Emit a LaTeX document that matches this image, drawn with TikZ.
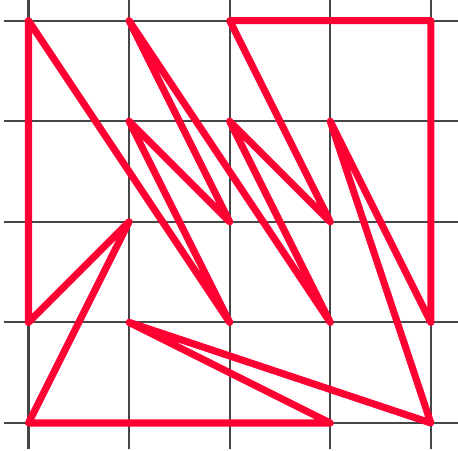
\documentclass[tikz,border=0pt]{standalone}
\usepackage{xcolor}
\usepackage{tikz}

\definecolor{zigred}{RGB}{255,0,51}
\definecolor{gridgray}{RGB}{70,70,70}

\begin{document}
\begin{tikzpicture}[
		gridline/.style={draw=gridgray,line width=0.6pt},
		tour/.style={draw=zigred,line width=2pt,line join=round,line cap=round}]
			
			\useasboundingbox (-0.283,-0.27) rectangle (4.27,4.205);
			
			\foreach \i in {0,...,4} {
				\draw[gridline] (\i,-0.26) -- (\i,4.4);
				\draw[gridline] (-0.24,\i) -- (4.4,\i);
			}
			
			\coordinate (1) at (0,4);
			\coordinate (2) at (0,1);
			\coordinate (3) at (1,2);
			\coordinate (4) at (0,0);
			\coordinate (5) at (3,0);
			\coordinate (6) at (1,1);
			\coordinate (7) at (4,0);
			\coordinate (8) at (3,3);
			\coordinate (9) at (4,1);
			\coordinate (10) at (4,4);
			\coordinate (11) at (2,4);
			\coordinate (12) at (3,2);
			\coordinate (13) at (2,3);
			\coordinate (14) at (3,1);
			\coordinate (15) at (1,4);
			\coordinate (16) at (2,2);
			\coordinate (17) at (1,3);
			\coordinate (18) at (2,1);
			
			\draw[tour] (1) -- (2) -- (3) -- (4) -- (5) -- (6) -- (7) -- (8) -- (9)
				-- (10) -- (11) -- (12) -- (13) -- (14) -- (15) -- (16) -- (17) -- (18) -- cycle;
			
		\end{tikzpicture}
\end{document}
